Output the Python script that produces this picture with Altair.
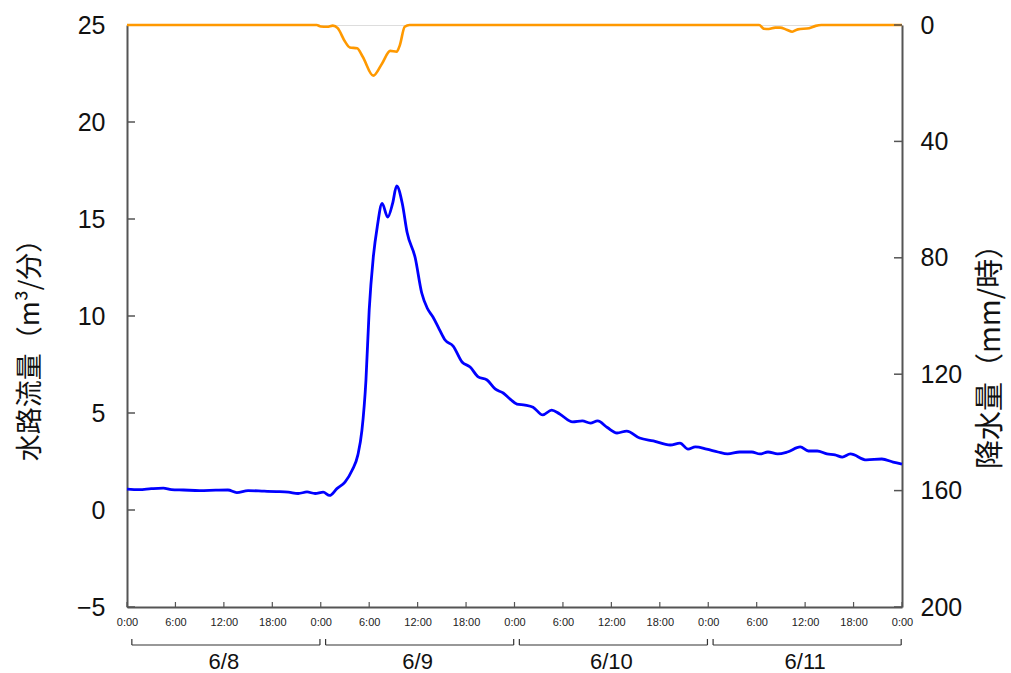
import altair as alt
import pandas as pd

# ---- data ----
flow_t = [0, 1.5, 3, 4.5, 5.5, 7, 9, 11, 12.5, 13.6, 15, 17, 18.5, 20, 21.2, 22.3, 23.3, 24.3, 25.1,
          26, 27, 27.9, 28.6, 29.1, 29.6, 30.0, 30.5, 31.0, 31.6, 32.3, 32.9, 33.4, 34.1, 34.7, 35.7,
          36.5, 37.2, 37.9, 38.7, 39.4, 40.4, 41.5, 42.5, 43.5, 44.6, 45.6, 46.6, 47.5, 48.3, 49.3,
          50.3, 51.5, 52.6, 53.6, 55.2, 56.4, 57.4, 58.3, 59.5, 60.7, 61.9, 63.5, 65.2, 67.3, 68.5,
          69.5, 70.4, 71.8, 73.2, 74.4, 75.9, 77.4, 78.4, 79.4, 80.6, 81.8, 83.4, 84.4, 85.5, 86.7,
          87.7, 88.6, 89.6, 91.6, 93.5, 94.9, 96]
flow_v = [1.08, 1.05, 1.1, 1.13, 1.05, 1.03, 1.0, 1.02, 1.03, 0.9, 1.0, 0.97, 0.95, 0.92, 0.85, 0.93, 0.85, 0.92, 0.75,
          1.1, 1.44, 2.06, 2.84, 4.1, 6.7, 10.3, 13.0, 14.6, 15.8, 15.1, 15.8, 16.7, 15.8, 14.3, 13.0,
          11.2, 10.4, 9.95, 9.3, 8.76, 8.45, 7.63, 7.37, 6.86, 6.7, 6.24, 6.03, 5.7, 5.46, 5.41,
          5.3, 4.9, 5.15, 4.95, 4.54, 4.59, 4.48, 4.59, 4.25, 3.97, 4.07, 3.71, 3.56, 3.35, 3.45,
          3.14, 3.25, 3.14, 2.99, 2.89, 2.99, 2.99, 2.89, 2.99, 2.89, 2.99, 3.25, 3.04, 3.04, 2.89,
          2.84, 2.73, 2.89, 2.58, 2.63, 2.47, 2.37]

rain_t = [0, 23.5, 24.0, 24.8, 25.5, 26.1, 27.0, 27.6, 28.5, 29.2, 30.5, 31.6, 32.6, 33.4, 33.8, 34.4, 35.0,
          78.3, 78.9, 79.5, 80.3, 80.9, 81.7, 82.4, 83.1, 84.5, 85.3, 86, 96]
rain_v = [0, 0, 0.5, 0.6, 0.2, 1.1, 5.7, 7.7, 8.0, 10.9, 17.4, 13.2, 8.9, 9.2, 6.9, 0.6, 0,
          0, 1.3, 1.4, 0.9, 0.9, 1.6, 2.3, 1.5, 1.1, 0.3, 0, 0]

day_labels = ["6/8", "6/9", "6/10", "6/11"]
day_start = [0, 24, 48, 72]
hour_ticks = list(range(0, 97, 6))
flow_ticks = [-5, 0, 5, 10, 15, 20, 25]
rain_ticks = [0, 40, 80, 120, 160, 200]

flow_df = pd.DataFrame({"t": flow_t, "flow": flow_v})
rain_df = pd.DataFrame({"t": rain_t, "rain": rain_v})
days_df = pd.DataFrame({
    "day": day_labels,
    "t": [d + 0.6 for d in day_start],
    "t_end": [d + 23.9 for d in day_start],
})
ends_df = pd.DataFrame({"t": [d + 0.6 for d in day_start] + [d + 23.9 for d in day_start]})
labels_df = pd.DataFrame({"t": [d + 12 for d in day_start], "day": day_labels})
hticks_df = pd.DataFrame({"t": hour_ticks})
fticks_df = pd.DataFrame({"v": flow_ticks})
rticks_df = pd.DataFrame({"v": rain_ticks})

W, H = 775, 582
NUM_FONT = "Liberation Sans"
JP_FONT = "Noto Sans CJK JP"
AX_COL = "#555555"

x_enc = alt.X("t:Q", scale=alt.Scale(domain=[0, 96], nice=False, zero=False),
              axis=alt.Axis(values=hour_ticks, labelExpr="floor(datum.value % 24) + ':00'",
                            ticks=False, grid=False, title=None, labelFontSize=11,
                            labelFont=NUM_FONT, labelColor="#222", labelPadding=9,
                            domainColor=AX_COL, domainWidth=2, labelFlush=False))

flow_scale = alt.Scale(domain=[-5, 25], nice=False, zero=False)
rain_scale = alt.Scale(domain=[0, 200], nice=False, reverse=True)

flow_line = alt.Chart(flow_df).mark_line(color="#0000ff", strokeWidth=2.8, interpolate="monotone").encode(
    x=x_enc,
    y=alt.Y("flow:Q", scale=flow_scale,
            axis=alt.Axis(values=flow_ticks, ticks=False, grid=False, title="水路流量（m³/分）",
                          titleFont=JP_FONT, titleFontSize=27, titleFontWeight="normal",
                          titleColor="#111", titlePadding=32, titleY=318,
                          labelFont=NUM_FONT, labelFontSize=25, labelColor="#111", labelPadding=22,
                          domainColor=AX_COL, domainWidth=2, orient="left")),
)

rain_line = alt.Chart(rain_df).mark_line(color="#ff9900", strokeWidth=2.6, interpolate="monotone").encode(
    x=x_enc,
    y=alt.Y("rain:Q", scale=rain_scale,
            axis=alt.Axis(values=rain_ticks, ticks=False, grid=False, title="降水量（mm/時）",
                          titleFont=JP_FONT, titleFontSize=29, titleFontWeight="normal",
                          titleColor="#111", titleAngle=270, titlePadding=44, titleY=324,
                          labelFont=NUM_FONT, labelFontSize=25, labelColor="#111", labelPadding=18,
                          domainColor=AX_COL, domainWidth=2, orient="right")),
)

left_ticks = alt.Chart(fticks_df).mark_rule(color=AX_COL, strokeWidth=1.5).encode(
    y=alt.Y("v:Q", scale=flow_scale, axis=None),
    x=alt.value(0), x2=alt.value(8),
)
right_ticks = alt.Chart(rticks_df).mark_rule(color=AX_COL, strokeWidth=1.5).encode(
    y=alt.Y("v:Q", scale=rain_scale, axis=None),
    x=alt.value(W - 8), x2=alt.value(W),
)
bottom_ticks = alt.Chart(hticks_df).mark_rule(color=AX_COL, strokeWidth=1.2).encode(
    x=x_enc, y=alt.value(H - 5), y2=alt.value(H),
)
brackets = alt.Chart(days_df).mark_rule(color="#333", strokeWidth=1.2).encode(
    x=x_enc, x2="t_end:Q", y=alt.value(H + 38),
)
bracket_ends = alt.Chart(ends_df).mark_rule(color="#333", strokeWidth=1.2).encode(
    x=x_enc, y=alt.value(H + 32), y2=alt.value(H + 38),
)
day_text = alt.Chart(labels_df).mark_text(font=NUM_FONT, fontSize=22, color="#111",
                                          baseline="middle", align="center").encode(
    x=x_enc, y=alt.value(H + 55), text="day:N",
)

chart = alt.layer(
    flow_line, left_ticks, rain_line, right_ticks, bottom_ticks, brackets, bracket_ends, day_text
).resolve_scale(y="independent").properties(
    width=W, height=H,
    autosize=alt.AutoSizeParams(type="none"),
    padding={"left": 127, "top": 25, "right": 109, "bottom": 66},
).configure_view(stroke="#888888", strokeWidth=2).configure(background="white")

chart.save("out.html", embed_options={"renderer": "svg", "actions": False})
